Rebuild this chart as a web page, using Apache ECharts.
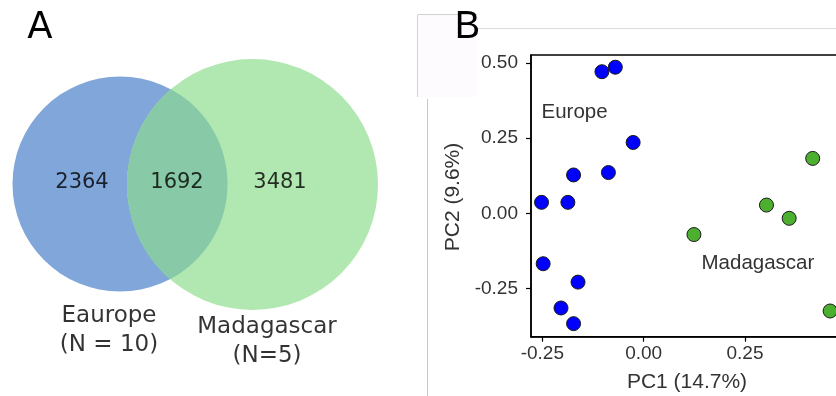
<!DOCTYPE html>
<html>
<head>
<meta charset="utf-8">
<script src="https://cdn.jsdelivr.net/npm/echarts@6/dist/echarts.min.js"></script>
<style>
html, body { margin: 0; padding: 0; background: #fff; }
#main { width: 836px; height: 396px; }
</style>
</head>
<body>
<div id="main"></div>
<script>
// panel A: venn counts (only Europe, shared, only Madagascar)
var vennCounts = [2364, 1692, 3481];
var vennSetNames = ['Eaurope\n(N = 10)', 'Madagascar\n(N=5)'];

// panel B: PCA scores
var europePC1 = [-0.103, -0.070, -0.026, -0.173, -0.087, -0.252, -0.187, -0.248, -0.162, -0.204, -0.173];
var europePC2 = [0.471, 0.486, 0.236, 0.128, 0.136, 0.037, 0.037, -0.167, -0.228, -0.314, -0.366];
var madaPC1 = [0.124, 0.303, 0.359, 0.417, 0.460];
var madaPC2 = [-0.070, 0.028, -0.016, 0.183, -0.324];
var pc1Ticks = [-0.25, 0, 0.25];
var pc2Ticks = [-0.25, 0, 0.25, 0.5];

// venn layout, in panel pixels
var vennCircles = [[120, 184, 107.5], [252.5, 184.5, 125.5]];
var vennColors = ['#80a6da', '#b1e7b0'];
var overlapColor = '#88caa7';
var countPos = [[82, 183], [177, 183], [280, 183]];
var namePos = [[109, 331], [267, 342]];

var chart = echarts.init(document.getElementById('main'));

function zip(a, b) {
    return a.map(function (v, i) { return [v, b[i]]; });
}

var tickFmt = function (v) { return v.toFixed(2); };

var option = {
    animation: false,
    backgroundColor: '#fff',
    grid: [
        { left: 0, top: 0, width: 420, height: 396, show: false, outerBoundsMode: 'none' },
        { left: 531, top: 55, width: 336, height: 281.7, show: true, borderColor: '#000', borderWidth: 1.5,
          backgroundColor: 'transparent', outerBoundsMode: 'none', containLabel: false }
    ],
    xAxis: [
        { gridIndex: 0, type: 'value', min: 0, max: 420, show: false },
        {
            gridIndex: 1, type: 'value', min: -0.278, max: 0.551,
            axisLine: { show: true, onZero: false, lineStyle: { color: '#000', width: 1.5 } },
            axisTick: { show: true, length: 5, customValues: pc1Ticks, lineStyle: { color: '#000', width: 1.2 } },
            axisLabel: { customValues: pc1Ticks, margin: 8, fontSize: 19, color: '#333', fontFamily: 'Liberation Sans', formatter: tickFmt },
            splitLine: { show: false }
        }
    ],
    yAxis: [
        { gridIndex: 0, type: 'value', min: 0, max: 396, inverse: true, show: false },
        {
            gridIndex: 1, type: 'value', min: -0.4094, max: 0.5266,
            axisLine: { show: true, onZero: false, lineStyle: { color: '#000', width: 1.5 } },
            axisTick: { show: true, length: 5, customValues: pc2Ticks, lineStyle: { color: '#000', width: 1.2 } },
            axisLabel: { customValues: pc2Ticks, margin: 13, fontSize: 19, color: '#333', fontFamily: 'Liberation Sans', formatter: tickFmt },
            splitLine: { show: false }
        }
    ],
    graphic: [
        // faint frame around panel B
        { type: 'rect', shape: { x: 417, y: 14, width: 60, height: 83 }, style: { fill: '#fdfbfd', stroke: null }, z: -10 },
        { type: 'polyline', shape: { points: [[417.5, 97], [417.5, 14.5], [477, 14.5]] }, style: { stroke: '#d2d2d2', lineWidth: 1, fill: null }, z: -9 },
        { type: 'line', shape: { x1: 477, y1: 28.5, x2: 836, y2: 28.5 }, style: { stroke: '#dcdcdc', lineWidth: 1 }, z: -9 },
        { type: 'line', shape: { x1: 427.5, y1: 99, x2: 427.5, y2: 396 }, style: { stroke: '#c8c8c8', lineWidth: 1 }, z: -9 },
        { type: 'text', x: 40, y: 28, style: { text: 'A', fontSize: 37, fontFamily: 'DejaVu Sans', fill: '#000', textAlign: 'center', textVerticalAlign: 'middle' } },
        { type: 'text', x: 467.5, y: 28, style: { text: 'B', fontSize: 38, fontFamily: 'Liberation Sans', fill: '#000', textAlign: 'center', textVerticalAlign: 'middle' } },
        { type: 'text', x: 687, y: 382, style: { text: 'PC1 (14.7%)', fontSize: 21, fontFamily: 'Liberation Sans', fill: '#333', textAlign: 'center', textVerticalAlign: 'middle' } },
        { type: 'text', x: 453, y: 197, rotation: Math.PI / 2, style: { text: 'PC2 (9.6%)', fontSize: 21, fontFamily: 'Liberation Sans', fill: '#333', textAlign: 'center', textVerticalAlign: 'middle' } },
        { type: 'text', x: 541.5, y: 112, style: { text: 'Europe', fontSize: 20.5, fontFamily: 'Liberation Sans', fill: '#333', textAlign: 'left', textVerticalAlign: 'middle' } },
        { type: 'text', x: 701.5, y: 263, style: { text: 'Madagascar', fontSize: 20.5, fontFamily: 'Liberation Sans', fill: '#333', textAlign: 'left', textVerticalAlign: 'middle' } }
    ],
    series: [
        {
            // the two set circles
            type: 'custom', xAxisIndex: 0, yAxisIndex: 0,
            data: vennCircles.map(function (c, i) { return [c[0], c[1], c[2], i]; }),
            renderItem: function (params, api) {
                var p = api.coord([api.value(0), api.value(1)]);
                var r = Math.abs(api.size([api.value(2), 0])[0]);
                return { type: 'circle', shape: { cx: p[0], cy: p[1], r: r }, style: { fill: vennColors[api.value(3)] } };
            },
            z: 1
        },
        {
            // the shared lens
            type: 'custom', xAxisIndex: 0, yAxisIndex: 0,
            data: [vennCircles[0].concat(vennCircles[1])],
            renderItem: function (params, api) {
                var a = api.coord([api.value(0), api.value(1)]);
                var b = api.coord([api.value(3), api.value(4)]);
                var r1 = Math.abs(api.size([api.value(2), 0])[0]);
                var r2 = Math.abs(api.size([api.value(5), 0])[0]);
                var dx = b[0] - a[0], dy = b[1] - a[1];
                var d = Math.sqrt(dx * dx + dy * dy);
                var base = Math.atan2(dy, dx);
                var t1 = Math.acos((r1 * r1 - r2 * r2 + d * d) / (2 * d * r1));
                var t2 = Math.acos((r2 * r2 - r1 * r1 + d * d) / (2 * d * r2));
                var pts = [], n = 80, k, ang;
                for (k = 0; k <= n; k++) {
                    ang = base - t1 + 2 * t1 * k / n;
                    pts.push([a[0] + r1 * Math.cos(ang), a[1] + r1 * Math.sin(ang)]);
                }
                for (k = 0; k <= n; k++) {
                    ang = base + Math.PI - t2 + 2 * t2 * k / n;
                    pts.push([b[0] + r2 * Math.cos(ang), b[1] + r2 * Math.sin(ang)]);
                }
                return { type: 'polygon', shape: { points: pts }, style: { fill: overlapColor } };
            },
            z: 2
        },
        {
            type: 'scatter', xAxisIndex: 0, yAxisIndex: 0, symbolSize: 0, silent: true, z: 3,
            data: countPos.map(function (p, i) { return [p[0], p[1], vennCounts[i]]; }),
            label: { show: true, position: 'inside', formatter: function (p) { return p.value[2]; },
                fontSize: 21, fontFamily: 'DejaVu Sans', color: '#000', textBorderWidth: 0 }
        },
        {
            type: 'scatter', xAxisIndex: 0, yAxisIndex: 0, symbolSize: 0, silent: true, z: 3,
            data: namePos.map(function (p, i) { return { value: [p[0], p[1]], name: vennSetNames[i] }; }),
            label: { show: true, position: 'inside', formatter: '{b}', align: 'center',
                fontSize: 23, lineHeight: 29, fontFamily: 'DejaVu Sans', color: '#000', textBorderWidth: 0 }
        },
        {
            name: 'Europe', type: 'scatter', xAxisIndex: 1, yAxisIndex: 1, symbolSize: 14,
            data: zip(europePC1, europePC2),
            itemStyle: { color: '#0000ff', borderColor: '#1a1a1a', borderWidth: 1, opacity: 1 }
        },
        {
            name: 'Madagascar', type: 'scatter', xAxisIndex: 1, yAxisIndex: 1, symbolSize: 14,
            data: zip(madaPC1, madaPC2),
            itemStyle: { color: '#4daf30', borderColor: '#1a1a1a', borderWidth: 1, opacity: 1 }
        }
    ]
};

chart.setOption(option);
</script>
</body>
</html>
